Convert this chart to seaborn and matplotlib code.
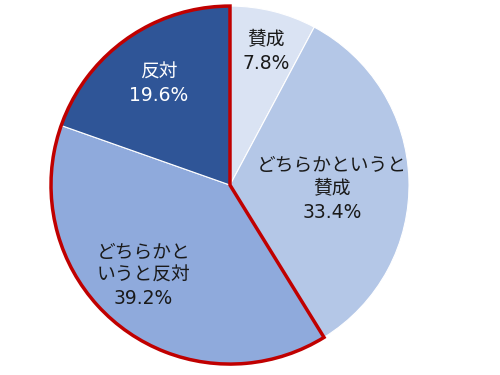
import matplotlib
matplotlib.use('Agg')
import matplotlib.pyplot as plt
from matplotlib.patches import Wedge
import numpy as np
import seaborn as sns

# survey answers, clockwise from 12 o'clock
labels = ['賛成', 'どちらかというと\n賛成', 'どちらかと\nいうと反対', '反対']
shares = [7.8, 33.4, 39.2, 19.6]
colors = ['#dae3f3', '#b4c7e7', '#8faadc', '#2f5597']
text_colors = ['#1a1a1a', '#1a1a1a', '#1a1a1a', '#ffffff']

sns.set_theme(style='white')
plt.rcParams['font.family'] = ['DejaVu Sans', 'Noto Sans CJK JP']

fig = plt.figure(figsize=(5, 3.75), dpi=100)
ax = fig.add_axes([0.102, 0.029, 0.716, 0.955])

wedges, _ = ax.pie(shares, colors=colors, startangle=90, counterclock=False,
                   radius=1, wedgeprops=dict(edgecolor='white', linewidth=0.8))

# red outline round the two "against" slices
frac = np.cumsum([0] + shares) / sum(shares)
outline = Wedge((0, 0), 1, 90, 90 + 360 * (frac[4] - frac[2]),
                fill=False, edgecolor='#c00000', linewidth=2.5, clip_on=False)
ax.add_patch(outline)

# label placement: radius and angle tweak per slice
label_r = [0.77, 0.57, 0.70, 0.69]
label_dt = [-1, -4, -5, 0]
for i, (lab, v) in enumerate(zip(labels, shares)):
    mid = 90 - 360 * (frac[i] + frac[i + 1]) / 2 + label_dt[i]
    x = label_r[i] * np.cos(np.radians(mid))
    y = label_r[i] * np.sin(np.radians(mid))
    ax.text(x, y, f'{lab}\n{v:.1f}%', ha='center', va='center',
            fontsize=13.5, color=text_colors[i], linespacing=1.3)

ax.set_xlim(-1, 1)
ax.set_ylim(-1, 1)
ax.set_aspect('equal')
ax.axis('off')

fig.savefig('out.png', dpi=100)
